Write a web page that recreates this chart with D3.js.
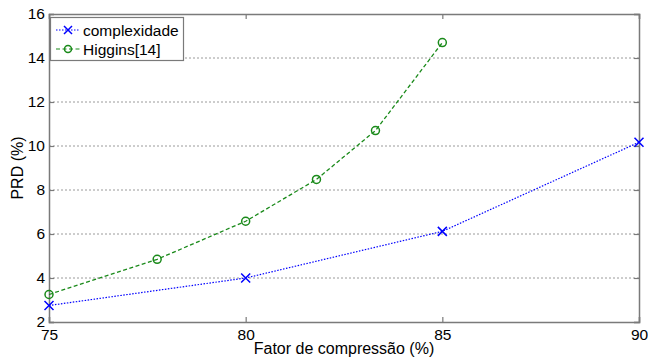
<!DOCTYPE html>
<html>
<head>
<meta charset="utf-8">
<script src="https://cdn.jsdelivr.net/npm/d3@7"></script>
<style>
  html, body { margin: 0; padding: 0; background: #fff; }
  svg { display: block; font-family: "Liberation Sans", Arial, sans-serif; }
</style>
</head>
<body>
<svg id="chart" width="648" height="363"></svg>
<script>
// Compression factor (%) vs PRD (%)
const complexidadeX = [75, 80, 85, 90];
const complexidadeY = [2.75, 4.0, 6.12, 10.17];
const higginsX = [75, 77.75, 80, 81.8, 83.3, 85];
const higginsY = [3.25, 4.85, 6.58, 8.48, 10.7, 14.7];
const xTicks = [75, 80, 85, 90];
const yTicks = [2, 4, 6, 8, 10, 12, 14, 16];

const svg = d3.select("#chart");
const plotL = 49, plotR = 639, plotT = 14, plotB = 322;

const x = d3.scaleLinear().domain([75, 90]).range([plotL, plotR]);
const y = d3.scaleLinear().domain([2, 16]).range([plotB, plotT]);

const axisColor = "#7a7a7a";

// horizontal grid lines
svg.append("g").selectAll("line")
  .data(yTicks.filter(d => d > 2 && d < 16))
  .join("line")
  .attr("x1", plotL).attr("x2", plotR)
  .attr("y1", d => y(d)).attr("y2", d => y(d))
  .attr("stroke", "#9a9a9a").attr("stroke-width", 1)
  .attr("stroke-dasharray", "2,2");

// axes (ticks pointing inwards)
const yAxis = svg.append("g").attr("transform", `translate(${plotL},0)`)
  .call(d3.axisLeft(y).tickValues(yTicks).tickSize(-5).tickPadding(4).tickFormat(d3.format("d")));
const yAxisR = svg.append("g").attr("transform", `translate(${plotR},0)`)
  .call(d3.axisRight(y).tickValues(yTicks).tickSize(-5).tickFormat(""));
const xAxis = svg.append("g").attr("transform", `translate(0,${plotB})`)
  .call(d3.axisBottom(x).tickValues(xTicks).tickSize(-5).tickPadding(7).tickFormat(d3.format("d")));
const xAxisT = svg.append("g").attr("transform", `translate(0,${plotT})`)
  .call(d3.axisTop(x).tickValues(xTicks).tickSize(-5).tickFormat(""));

[yAxis, yAxisR, xAxis, xAxisT].forEach(g => {
  g.select(".domain").attr("stroke", axisColor).attr("stroke-width", 1.5);
  g.selectAll(".tick line").attr("stroke", axisColor).attr("stroke-width", 1.2);
  g.selectAll(".tick text").attr("fill", "#000").attr("font-size", "15.5px")
    .attr("font-family", "Liberation Sans, Arial, sans-serif");
});

// axis titles
svg.append("text")
  .attr("x", (plotL + plotR) / 2).attr("y", 354)
  .attr("text-anchor", "middle").attr("font-size", "16px").attr("fill", "#000")
  .text("Fator de compressão (%)");
svg.append("text")
  .attr("transform", `translate(23,${(plotT + plotB) / 2}) rotate(-90)`)
  .attr("text-anchor", "middle").attr("font-size", "16px").attr("fill", "#000")
  .text("PRD (%)");

const blue = "#0000ff", green = "#1a8a1a";
const line = d3.line().x(d => x(d[0])).y(d => y(d[1]));

const cData = complexidadeX.map((v, i) => [v, complexidadeY[i]]);
const hData = higginsX.map((v, i) => [v, higginsY[i]]);

svg.append("path").datum(hData).attr("d", line)
  .attr("fill", "none").attr("stroke", green).attr("stroke-width", 1.3)
  .attr("stroke-dasharray", "4,2.5");
svg.append("path").datum(cData).attr("d", line)
  .attr("fill", "none").attr("stroke", blue).attr("stroke-width", 1.2)
  .attr("stroke-dasharray", "1.5,1.5");

function cross(g, cx, cy, r, color) {
  g.append("path")
    .attr("d", `M${cx - r},${cy - r}L${cx + r},${cy + r}M${cx - r},${cy + r}L${cx + r},${cy - r}`)
    .attr("stroke", color).attr("stroke-width", 1.5).attr("fill", "none");
}
function circle(g, cx, cy, r, color) {
  g.append("circle").attr("cx", cx).attr("cy", cy).attr("r", r)
    .attr("fill", "none").attr("stroke", color).attr("stroke-width", 1.5);
}

const marks = svg.append("g");
hData.forEach(d => circle(marks, x(d[0]), y(d[1]), 4, green));
cData.forEach(d => cross(marks, x(d[0]), y(d[1]), 4.5, blue));

// legend
const lg = svg.append("g");
lg.append("rect").attr("x", 50.5).attr("y", 17.5).attr("width", 133).attr("height", 43)
  .attr("fill", "#fff").attr("stroke", axisColor).attr("stroke-width", 1.2);
const items = [
  { label: "complexidade", color: blue, dash: "1.5,1.5", mark: "x", yy: 30 },
  { label: "Higgins[14]", color: green, dash: "4,2.5", mark: "o", yy: 49 }
];
items.forEach(it => {
  lg.append("line").attr("x1", 56).attr("x2", 80).attr("y1", it.yy).attr("y2", it.yy)
    .attr("stroke", it.color).attr("stroke-width", 1.2).attr("stroke-dasharray", it.dash);
  if (it.mark === "x") cross(lg, 68, it.yy, 4, it.color);
  else circle(lg, 68, it.yy, 3.5, it.color);
  lg.append("text").attr("x", 83).attr("y", it.yy + 5.5)
    .attr("font-size", "15.5px").attr("fill", "#000").text(it.label);
});
</script>
</body>
</html>
